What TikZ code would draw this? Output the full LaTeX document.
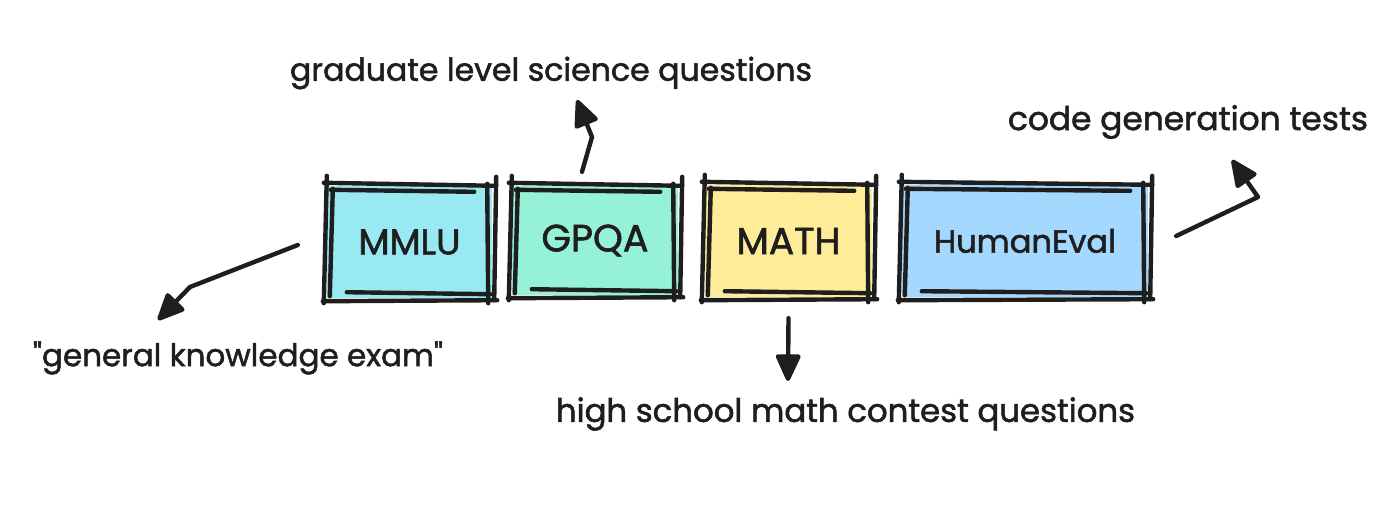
\documentclass[tikz,border=0pt]{standalone}
\usepackage{fontspec}
\setmainfont{Poppins}[FakeBold=1.6]
\newfontfamily\plainq{Poppins}[FakeBold=1.6,Ligatures=TeXOff]
\usetikzlibrary{arrows.meta}
\definecolor{cyanf}{HTML}{99E9F2}
\definecolor{tealf}{HTML}{96F2D7}
\definecolor{yellf}{HTML}{FFEC99}
\definecolor{bluef}{HTML}{A5D8FF}
\definecolor{ink}{HTML}{1E1E1E}
\newcommand\fitw[2]{\resizebox{#1pt}{!}{#2}}
\newcommand\sketchit[1]{%
 \draw[sk] ([shift={(-3,-3)}]#1.north west) -- ([shift={(4,0)}]#1.north east);
 \draw[sk] ([shift={(4,4)}]#1.north west) -- ([shift={(-18,6)}]#1.north east);
 \draw[sk] ([shift={(0,-10)}]#1.north west) -- ([shift={(-3,5)}]#1.south west);
 \draw[sk] ([shift={(6,3)}]#1.north west) -- ([shift={(3,-2)}]#1.south west);
 \draw[sk] ([shift={(-4,3)}]#1.south west) -- ([shift={(5,2)}]#1.south east);
 \draw[sk] ([shift={(20,-6)}]#1.south west) -- ([shift={(-2,-4)}]#1.south east);
 \draw[sk] ([shift={(-5,-2)}]#1.north east) -- ([shift={(-4,5)}]#1.south east);
 \draw[sk] ([shift={(4,-9)}]#1.north east) -- ([shift={(2,2)}]#1.south east);
}
\begin{document}
\begin{tikzpicture}[x=1pt,y=-1pt,
 boxfill/.style={fill=#1, draw=none, inner sep=0pt, text=ink},
 sk/.style={draw=ink, line width=4.4pt, line cap=round, line join=round},
 arr/.style={draw=ink, line width=4.4pt, line cap=round, line join=round, -{Triangle[length=30pt,width=26pt,round]}},
 lbl/.style={text=ink, inner sep=0pt}]
\useasboundingbox[fill=white] (0,0) rectangle (1400,504);

\node[boxfill=cyanf, minimum width=165pt, minimum height=112pt] (mmlu) at (409.5,242) {\fitw{102}{MMLU}};
\node[boxfill=tealf, minimum width=166pt, minimum height=109pt] (gpqa) at (595,240.5) {\fitw{107}{GPQA}};
\node[boxfill=yellf, minimum width=167pt, minimum height=112pt] (math) at (788.5,241) {\fitw{104}{MATH}};
\node[boxfill=bluef, minimum width=246pt, minimum height=112pt] (he) at (1025,241) {\fitw{182}{HumanEval}};
\sketchit{mmlu}
\sketchit{gpqa}
\sketchit{math}
\sketchit{he}

\node[lbl] (gq) at (551,73) {\fitw{522}{graduate level science questions}};
\node[lbl] (cg) at (1188,122) {\fitw{360}{code generation tests}};
\node[lbl] (gk) at (238,358) {\fitw{410}{\plainq "general knowledge exam"}};
\node[lbl] (hs) at (845.5,414) {\fitw{579}{high school math contest questions}};

\coordinate (mmA) at (190,287); \coordinate (mmT) at (158,320);
\draw[arr] ([shift={(-29,3)}]mmlu.west) -- (mmA) -- (mmT);
\coordinate (gpA) at (592,137); \coordinate (gpT) at (577,100);
\draw[arr] ([shift={(-13,-14)}]gpqa.north) -- (gpA) -- (gpT);
\coordinate (maT) at (788,381);
\draw[arr] ([shift={(0,21)}]math.south) -- (maT);
\coordinate (heA) at (1258,197); \coordinate (heT) at (1232,160);
\draw[arr] ([shift={(28,-5)}]he.east) -- (heA) -- (heT);
\end{tikzpicture}
\end{document}
